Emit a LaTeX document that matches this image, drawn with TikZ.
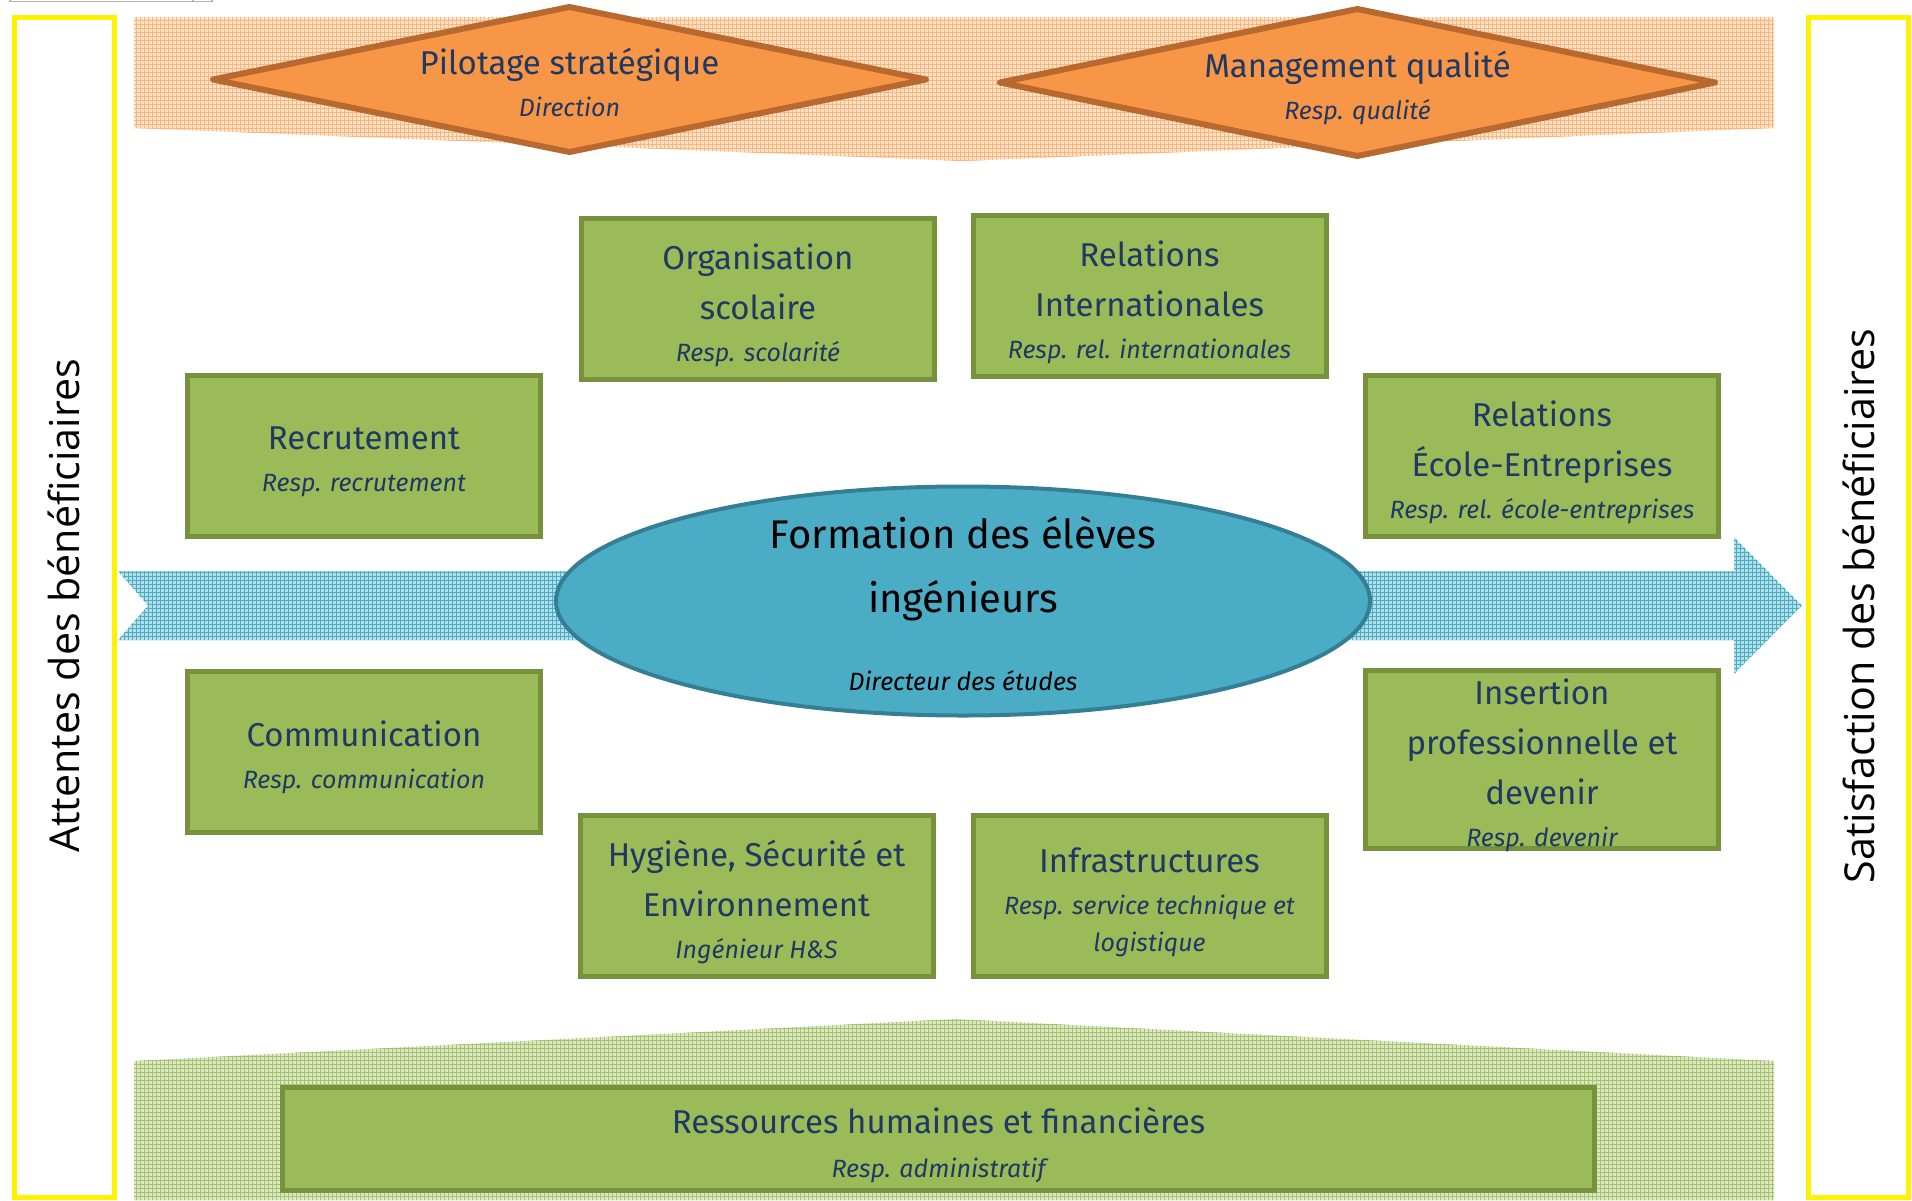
\documentclass[tikz,border=0pt]{standalone}
\usepackage{fontspec}
\setmainfont{Fira Sans}
\newfontfamily\cotefont{Open Sans}
\usetikzlibrary{patterns}
\definecolor{vert}{HTML}{9BBB59}
\definecolor{vertfonce}{HTML}{76923C}
\definecolor{vertclair}{HTML}{DCE8C5}
\definecolor{vertgrille}{HTML}{A9C46E}
\definecolor{orangeq}{HTML}{F79646}
\definecolor{orangefonce}{HTML}{B7692F}
\definecolor{orangeclair}{HTML}{FDE3CB}
\definecolor{orangegrille}{HTML}{F9B57A}
\definecolor{bleu}{HTML}{4BACC6}
\definecolor{bleufonce}{HTML}{357F94}
\definecolor{bleuclair}{HTML}{B4DDE8}
\definecolor{bleunuit}{HTML}{1F3864}
\pgfdeclarepatternformonly{finegrid}{\pgfqpoint{-.1pt}{-.1pt}}{\pgfqpoint{2.1pt}{2.1pt}}{\pgfqpoint{2pt}{2pt}}{%
  \pgfsetlinewidth{.4pt}%
  \pgfpathmoveto{\pgfqpoint{0pt}{0pt}}\pgfpathlineto{\pgfqpoint{2.1pt}{0pt}}%
  \pgfpathmoveto{\pgfqpoint{0pt}{0pt}}\pgfpathlineto{\pgfqpoint{0pt}{2.1pt}}%
  \pgfusepath{stroke}}
\newcommand\titrefont{\fontsize{16.5}{25}\selectfont}
\newcommand\resp[1]{\\[-4pt]{\fontsize{12.5}{25}\selectfont\itshape #1}}
\begin{document}
\begin{tikzpicture}[x=.5pt, y=-.5pt,
    boite/.style={draw=vertfonce, fill=vert, line width=2.5pt, inner sep=0pt, minimum width=176.5pt,
      minimum height=80.5pt, align=center, text=bleunuit, font=\titrefont, text depth=0pt,
      execute at begin node={\vbox\bgroup\vskip3.5pt\hbox\bgroup}, execute at end node={\egroup\egroup}},
    losange/.style={draw=orangefonce, fill=orangeq, line width=3pt, line join=round},
    texte/.style={align=center, text=bleunuit, font=\titrefont, inner sep=0pt},
    cote/.style={rotate=90, font=\cotefont\fontsize{20.6}{24}\selectfont, inner sep=0pt},
    jaune/.style={draw=yellow, line width=2.5pt}]
  \useasboundingbox (0,0) rectangle (1912,1200);
  \draw[gray!60, line width=.6pt] (10,-4) rectangle (212,1.5) (193,-4) -- (193,1.5);
  \path[preaction={fill=orangeclair}, pattern=finegrid, pattern color=orangegrille]
    (134,17) -- (1774,17) -- (1774,128) -- (963,161) -- (134,128) -- cycle;
  \path[preaction={fill=vertclair}, pattern=finegrid, pattern color=vertgrille]
    (134,1200) -- (134,1061) -- (955,1019) -- (1774,1061) -- (1774,1200) -- cycle;
  \path[preaction={fill=bleuclair}, pattern=finegrid, pattern color=bleu]
    (118,571) -- (1734,571) -- (1734,537) -- (1802,605.5) -- (1734,674) -- (1734,640) -- (118,640) -- (148,605.5) -- cycle;
  \draw[jaune] (14,17) rectangle (114,1197) (1808,17) rectangle (1908,1197);
  \node[cote] (attentes) at (64,606) {Attentes des bénéficiaires};
  \node[cote] (satisf) at (1859,606) {Satisfaction des bénéficiaires};
  \draw[losange] (213,79.5) -- (569.5,7) -- (926,79.5) -- (569.5,152) -- cycle;
  \draw[losange] (1000,82.5) -- (1357.5,9) -- (1715,82.5) -- (1357.5,156) -- cycle;
  \node[texte] (pilot) at (569.5,82) {Pilotage stratégique\resp{Direction}};
  \node[texte] (qualite) at (1357.5,87.5) {Management qualité\resp{Resp. qualité}};
  \node[boite] (orga) at (758,299) {Organisation\\scolaire\resp{Resp. scolarité}};
  \node[boite] (relint) at (1149.5,296) {Relations\\Internationales\resp{Resp. rel. internationales}};
  \node[boite] (recru) at (364,456) {Recrutement\resp{Resp. recrutement}};
  \node[boite] (relent) at (1542,456) {Relations\\École-Entreprises\resp{Resp. rel. école-entreprises}};
  \node[boite] (comm) at (364,751.5) {Communication\resp{Resp. communication}};
  \node[boite, minimum height=89pt] (insert) at (1542,759.5) {Insertion\\professionnelle et\\devenir\resp{Resp. devenir}};
  \node[boite] (hse) at (756.5,896) {Hygiène, Sécurité et\\Environnement\resp{Ingénieur H\&S}};
  \node[boite] (infra) at (1149.5,896) {Infrastructures\resp{Resp. service technique et}\\[-6.5pt]{\fontsize{12.5}{25}\selectfont\itshape logistique}};
  \node[boite, minimum width=656pt, minimum height=51.5pt] (rh) at (938.5,1139) {Ressources humaines et financières\\[-3pt]{\fontsize{12.5}{25}\selectfont\itshape Resp. administratif}};
  \draw[draw=bleufonce, fill=bleu, line width=2pt] (963,601) ellipse [x radius=203.5pt, y radius=57.25pt];
  \node[align=center, inner sep=0pt, font=\fontsize{20}{32}\selectfont] (formation) at (963,604)
    {Formation des élèves\\ingénieurs\\[7pt]{\fontsize{12.5}{32}\selectfont\itshape Directeur des études}};
\end{tikzpicture}
\end{document}
